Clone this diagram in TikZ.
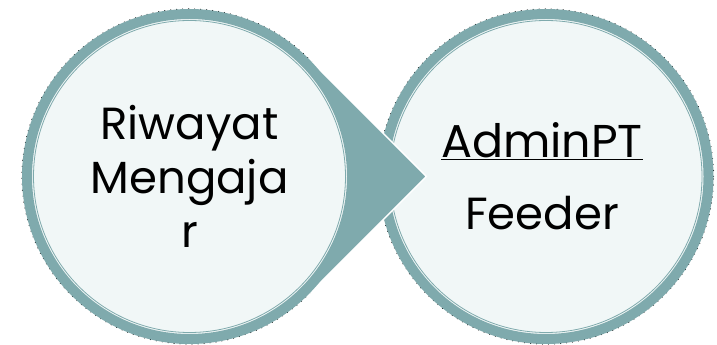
\documentclass[tikz,border=0pt]{standalone}
\usepackage{fontspec}
\setmainfont{Poppins}
\usetikzlibrary{calc}
\definecolor{ringteal}{RGB}{127,170,173}
\definecolor{bubblefill}{RGB}{241,247,247}
\tikzset{
  bubble/.style={circle,fill=bubblefill,draw=ringteal,line width=10pt,minimum size=325pt,inner sep=0pt,align=center,font=\fontsize{45}{54}\selectfont},
  speckle/.style={draw=black,line width=1.3pt,dash pattern=on 0pt off 6pt,line cap=round},
  innerline/.style={draw=ringteal,line width=0.8pt}
}
\begin{document}
\begin{tikzpicture}
        \useasboundingbox (0,0) rectangle (717pt,345pt);
        %% Right circle
        \draw[speckle] (546pt,168.5pt) circle (167.5pt);
        \node[bubble] (feeder) at (546pt,168.5pt) {\hspace*{-8pt}\fontsize{46}{54}\selectfont\underline{AdminPT}\\[18pt]\hspace*{-8pt}Feeder};
        \draw[innerline] (feeder.center) circle (156pt);
        %% Arrow, tangent to the left circle
        \coordinate (c) at (189.5pt,168.5pt);
        \draw[speckle] (c) circle (167.5pt);
        \fill[ringteal] (c) -- ($(c)+(45:167.5pt)$) coordinate (t1) -- ($(c)+(236.9pt,0)$) coordinate (tip) -- ($(c)+(-45:167.5pt)$) coordinate (t2) -- cycle;
        \draw[white,line width=1.5pt] (t1) -- (tip) -- (t2);
        %% Left circle
        \node[bubble] (riwayat) at (c) {Riwayat\\Mengaja\\r};
        \draw[innerline] (riwayat.center) circle (156pt);
\end{tikzpicture}
\end{document}
